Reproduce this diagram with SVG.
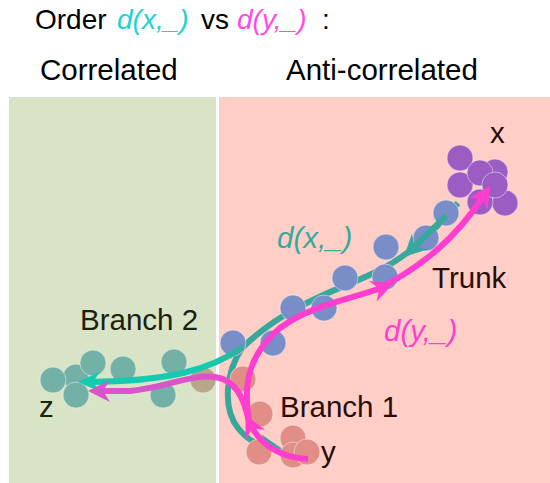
<svg xmlns="http://www.w3.org/2000/svg" width="550" height="483" viewBox="0 0 550 483">
  <style>
    text { font-family: "Liberation Sans", Arial, sans-serif; }
    .hdr { font-size: 28px; fill: #000; }
    .col { font-size: 29.5px; fill: #000; }
    .lbl { font-size: 29.5px; fill: #2a0c06; }
    .lblg { font-size: 29.5px; fill: #1a2210; }
    .it { font-style: italic; }
    .dot { stroke: #ffffff; stroke-opacity: 0.45; stroke-width: 1; }
    .purple { fill: #9b5cc3; }
    .blue { fill: #798dc6; }
    .salmon { fill: #e08e86; }
    .teal { fill: #73b0a5; }
    .brown { fill: #b8a58a; }
    .line { fill: none; stroke-width: 6; stroke-linecap: butt; }
  </style>
  <defs>
    <linearGradient id="gCyan" gradientUnits="userSpaceOnUse" x1="250" y1="0" x2="210" y2="0">
      <stop offset="0" stop-color="#38a89c"/>
      <stop offset="1" stop-color="#12cbb0"/>
    </linearGradient>
    <linearGradient id="gMag" gradientUnits="userSpaceOnUse" x1="235" y1="0" x2="195" y2="0">
      <stop offset="0" stop-color="#ff3ecf"/>
      <stop offset="1" stop-color="#d955c9"/>
    </linearGradient>
    <marker id="aTeal" markerUnits="userSpaceOnUse" viewBox="-15 -13 28 26" markerWidth="28" markerHeight="26" refX="0" refY="0" orient="auto">
      <path d="M10,0 L-12,-11 L-5,0 L-12,11 Z" fill="#38a89c"/>
    </marker>
    <marker id="aCyan" markerUnits="userSpaceOnUse" viewBox="-15 -13 28 26" markerWidth="28" markerHeight="26" refX="0" refY="0" orient="auto">
      <path d="M10,0 L-12,-10 L-5,0 L-12,10 Z" fill="#12cbb0"/>
    </marker>
    <marker id="aMag" markerUnits="userSpaceOnUse" viewBox="-15 -13 28 26" markerWidth="28" markerHeight="26" refX="0" refY="0" orient="auto">
      <path d="M10,0 L-12,-11 L-5,0 L-12,11 Z" fill="#ff3ecf"/>
    </marker>
    <marker id="aMagD" markerUnits="userSpaceOnUse" viewBox="-15 -13 28 26" markerWidth="28" markerHeight="26" refX="0" refY="0" orient="auto">
      <path d="M10,0 L-12,-11 L-5,0 L-12,11 Z" fill="#d955c9"/>
    </marker>
  </defs>

  <!-- panels -->
  <rect x="9" y="97" width="207" height="386" fill="#d9e4c7"/>
  <rect x="219" y="97" width="331" height="386" fill="#ffcfc7"/>

  <!-- heading -->
  <g id="heading">
    <text class="hdr" x="35" y="29">Order</text>
    <text class="hdr it" x="117" y="29" style="fill:#22d2d2">d(x,_)</text>
    <text class="hdr" x="201" y="29">vs</text>
    <text class="hdr it" x="237" y="29" style="fill:#ff4be6">d(y,_)</text>
    <text class="hdr" x="322" y="29">:</text>
    <text class="col" x="40" y="80">Correlated</text>
    <text class="col" x="286" y="80">Anti-correlated</text>
  </g>

  <!-- connectors drawn beneath the point clouds -->
  <g id="connectors-under">
    <path class="line" stroke="#38a89c" d="M458,203 C438,226 415,252 380,270 S290,302 243,347"/>
    <path class="line" stroke="#38a89c" marker-end="url(#aTeal)" d="M242,348 C226,372 222,408 238,428 C248,441 258,445 272,447"/>
  </g>

  <!-- point clouds -->
  <g id="node-x">
    <circle class="dot purple" cx="460" cy="158" r="13"/>
    <circle class="dot purple" cx="460" cy="185" r="13"/>
    <circle class="dot purple" cx="495" cy="172" r="13"/>
    <circle class="dot purple" cx="505" cy="203" r="13"/>
    <circle class="dot purple" cx="480" cy="202" r="13"/>
    <circle class="dot purple" cx="480" cy="173" r="13"/>
    <circle class="dot purple" cx="495" cy="185" r="13"/>
    <text class="lbl" x="490" y="143">x</text>
  </g>
  <g id="node-trunk">
    <circle class="dot blue" cx="446" cy="213" r="13"/>
    <circle class="dot blue" cx="426" cy="238" r="13"/>
    <circle class="dot blue" cx="386" cy="247" r="13"/>
    <circle class="dot blue" cx="385" cy="277" r="13"/>
    <circle class="dot blue" cx="345" cy="278" r="13"/>
    <circle class="dot blue" cx="293" cy="308" r="13"/>
    <circle class="dot blue" cx="324" cy="308" r="13"/>
    <circle class="dot blue" cx="233" cy="343" r="13"/>
    <circle class="dot blue" cx="273" cy="343" r="13"/>
    <text class="lbl" x="432" y="288">Trunk</text>
  </g>
  <g id="node-branch1">
    <circle class="dot salmon" cx="243" cy="379" r="13"/>
    <circle class="dot salmon" cx="260" cy="414" r="13"/>
    <circle class="dot salmon" cx="259" cy="452" r="13"/>
    <circle class="dot salmon" cx="293" cy="438" r="13"/>
    <circle class="dot salmon" cx="293" cy="455" r="13"/>
    <circle class="dot salmon" cx="307" cy="452" r="13"/>
    <text class="lbl" x="280" y="417">Branch 1</text>
    <text class="lbl" x="321" y="462">y</text>
  </g>
  <g id="node-branch2">
    <circle class="dot teal" cx="76" cy="377" r="13"/>
    <circle class="dot teal" cx="53" cy="380" r="13"/>
    <circle class="dot teal" cx="93" cy="363" r="13"/>
    <circle class="dot teal" cx="123" cy="369" r="13"/>
    <circle class="dot teal" cx="76" cy="395" r="13"/>
    <circle class="dot teal" cx="174" cy="362" r="13"/>
    <circle class="dot teal" cx="163" cy="395" r="13"/>
    <circle class="dot brown" cx="203" cy="380" r="13"/>
    <text class="lblg" x="80" y="330">Branch 2</text>
    <text class="lblg" x="39" y="417">z</text>
  </g>

  <!-- connectors drawn over the point clouds -->
  <g id="connectors">
    <path class="line" stroke="#38a89c" marker-end="url(#aTeal)" d="M446,216 L411,250"/>
    <path class="line" stroke="url(#gCyan)" marker-end="url(#aCyan)" d="M243,347 C210,370 170,381 88,382"/>
    <path class="line" stroke="#ff3ecf" marker-end="url(#aMag)" d="M308,459 C285,458 262,448 250,424"/>
    <path class="line" stroke="#ff3ecf" marker-end="url(#aMag)" d="M249,420 C243,385 248,355 280,328 C310,305 355,298 384,287"/>
    <path class="line" stroke="#ff3ecf" marker-end="url(#aMag)" d="M376,290 C420,268 455,240 485,194"/>
    <path class="line" stroke="url(#gMag)" marker-end="url(#aMagD)" d="M249,422 C244,398 236,380 215,377 C190,374 165,388 130,391 L98,391"/>
  </g>

  <!-- connector labels -->
  <g id="labels">
    <text class="lbl it" x="277" y="248" style="fill:#38a99e">d(x,_)</text>
    <text class="lbl it" x="384" y="341" style="fill:#ff3ecf">d(y,_)</text>
  </g>
</svg>
